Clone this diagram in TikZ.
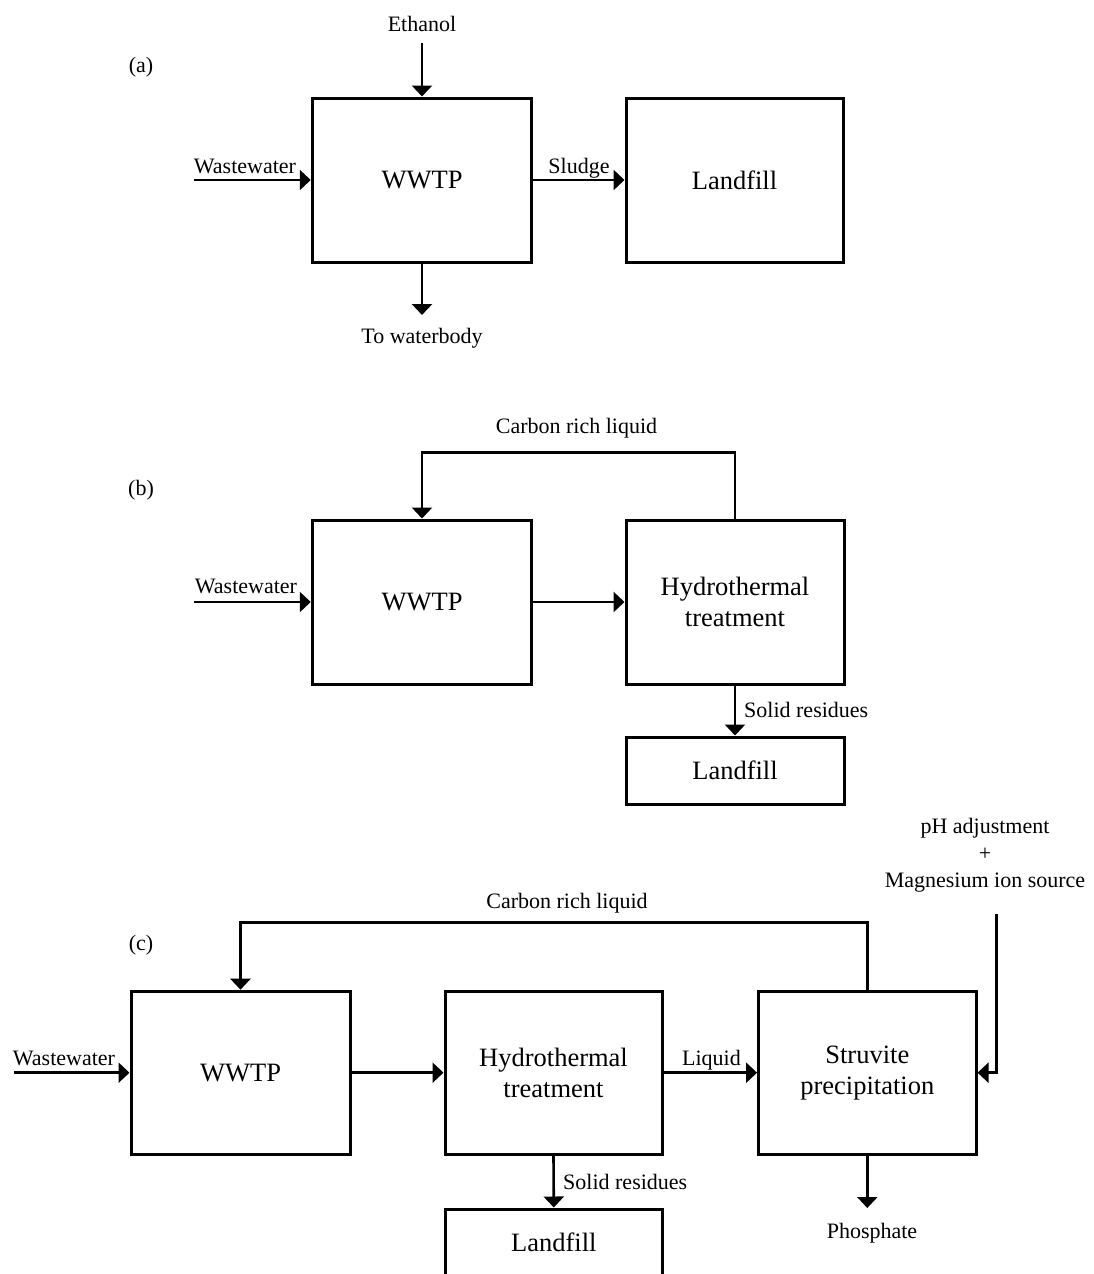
\documentclass[tikz,border=0pt]{standalone}
\usepackage{fontspec}
\setmainfont{Liberation Serif}
\usetikzlibrary{arrows.meta}
\newcommand\bigf{\fontsize{26.5}{31}\selectfont}
\newcommand\labf{\fontsize{22}{27}\selectfont}
\tikzset{
  procbox/.style={draw, line width=3pt, minimum width=218pt, minimum height=164pt,
    inner sep=0pt, align=center, font=\bigf},
  lowbox/.style={procbox, minimum height=67pt},
  lab/.style={inner sep=0pt, font=\labf, anchor=base},
  arr/.style={line width=2.6pt, -{Triangle[length=11pt,width=20pt]}},
  fline/.style={line width=2.6pt}
}
\begin{document}
\begin{tikzpicture}[x=1pt,y=-1pt]
\useasboundingbox (0,0) rectangle (1094,1274);
% ---------- (a) ----------
\node[lab] (la) at (141,72) {(a)};
\node[procbox, minimum width=219.5pt] (wwtpa) at (422,180) {WWTP};
\node[procbox, minimum width=217pt] (landa) at (734.5,180) {Landfill};
\node[lab] (etha) at (422,31) {Ethanol};
\coordinate (ethin) at (422,43);
\draw[arr] (ethin) -- (wwtpa);
\node[lab] (wwla) at (245,173) {Wastewater};
\coordinate (wwina) at (194,180);
\draw[arr] (wwina) -- (wwtpa);
\draw[arr] (wwtpa) -- (landa);
\node[lab] (sludge) at (579,173) {Sludge};
\coordinate (wbout) at (422,315);
\draw[arr] (wwtpa.south) -- (wbout);
\node[lab] (wbl) at (422,343) {To waterbody};
% ---------- (b) ----------
\node[lab] (lb) at (141,495) {(b)};
\node[procbox, minimum width=219.5pt] (wwtpb) at (422,602) {WWTP};
\node[procbox] (hydb) at (735,602) {Hydrothermal\\treatment};
\node[lowbox] (landb) at (735,770.5) {Landfill};
\node[lab] (wwlb) at (246,593) {Wastewater};
\coordinate (wwinb) at (194,602);
\draw[arr] (wwinb) -- (wwtpb);
\draw[arr] (wwtpb) -- (hydb);
\coordinate (fbb) at (422,452.5);
\draw[arr] (hydb.north) |- (fbb) -- (wwtpb.north);
\node[lab] (crlb) at (576.5,433) {Carbon rich liquid};
\draw[arr] (hydb.south) -- (landb.north);
\node[lab, anchor=base west] (srb) at (744,717) {Solid residues};
% ---------- (c) ----------
\node[lab] (lc) at (141,950) {(c)};
\node[procbox, minimum width=219pt, minimum height=163pt] (wwtpc) at (240.5,1072.7) {WWTP};
\node[procbox, minimum width=217pt, minimum height=163pt] (hydc) at (553.5,1072.7) {Hydrothermal\\treatment};
\node[procbox, minimum width=217.5pt, minimum height=163pt] (struv) at (867.3,1072.7) {Struvite\\precipitation};
\node[lowbox, minimum width=217pt] (landc) at (553.8,1242.5) {Landfill};
\node[lab] (wwlc) at (64,1065) {Wastewater};
\coordinate (wwinc) at (14,1072.7);
\draw[arr] (wwinc) -- (wwtpc);
\draw[arr] (wwtpc) -- (hydc);
\draw[arr] (hydc) -- (struv);
\node[lab] (liq) at (711.5,1065) {Liquid};
\coordinate (fbc) at (240.5,922.7);
\draw[arr] (struv.north) |- (fbc) -- (wwtpc.north);
\node[lab] (crlc) at (567,908.5) {Carbon rich liquid};
\draw[arr] (hydc.south) -- (landc.north);
\node[lab, anchor=base west] (src) at (563,1189) {Solid residues};
\coordinate (phout) at (867.3,1208);
\draw[arr] (struv.south) -- (phout);
\node[lab] (phl) at (872,1238) {Phosphate};
\node[inner sep=0pt, font=\labf, align=center] (mgl) at (985,855) {pH adjustment\\+\\Magnesium ion source};
\coordinate (mgin) at (996.7,914);
\draw[arr] (mgin) |- (struv.east);
\end{tikzpicture}
\end{document}
